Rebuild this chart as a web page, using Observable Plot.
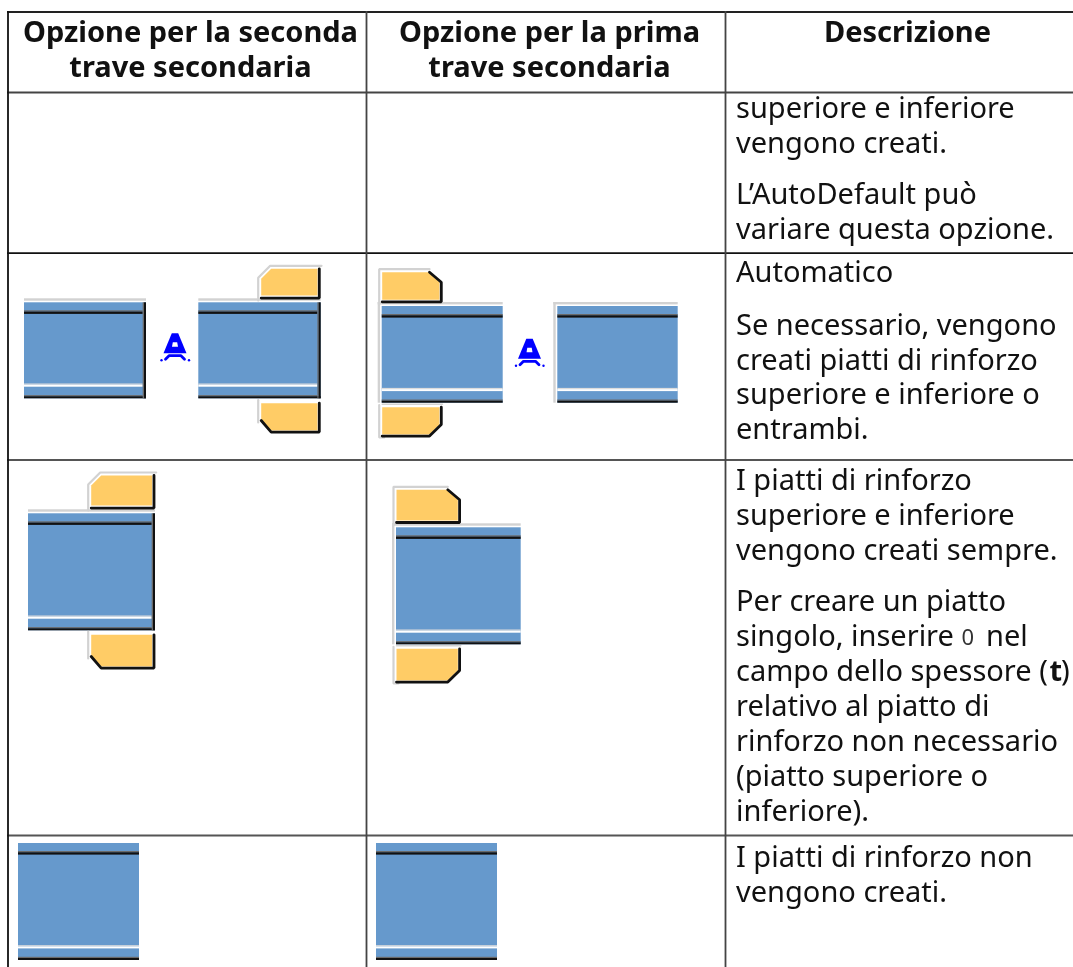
<!DOCTYPE html>
<html><head><meta charset="utf-8">
<style>html,body{margin:0;padding:0;background:#fff;overflow:hidden}svg{display:block;filter:blur(.4px)}</style>
<script src="https://cdn.jsdelivr.net/npm/d3@7"></script>
<script src="https://cdn.jsdelivr.net/npm/@observablehq/plot@0.6"></script>
</head><body><div id="chart"></div>
<script>
const columnTitles = [["Opzione per la seconda","trave secondaria"],["Opzione per la prima","trave secondaria"],["Descrizione"]];
const descriptionLines = ["superiore e inferiore","vengono creati.","L’AutoDefault può","variare questa opzione.","Automatico","Se necessario, vengono","creati piatti di rinforzo","superiore e inferiore o","entrambi.","I piatti di rinforzo","superiore e inferiore","vengono creati sempre.","Per creare un piatto","singolo, inserire","campo dello spessore (","relativo al piatto di","rinforzo non necessario","(piatto superiore o","inferiore).","I piatti di rinforzo non","vengono creati."];
const inlinePieces = ["0","nel","t",")"];

const descriptionY = [108,143,194,229,272,325,360,394,429,480,515,550,601,636,671,706,741,776,811,857,892];
const headerX = [190,549,907], headerY = [32,67];
const hLines = [{y:11.5,s:"#222",w:1.8},{y:92,s:"#444",w:1.8},{y:252.7,s:"#111",w:1.8},{y:459.5,s:"#555",w:1.8},{y:835,s:"#555",w:1.8}];
const vLines = [{x:7.5,s:"#111",w:1.8},{x:366,s:"#444",w:1.8},{x:725,s:"#444",w:1.8}];
const BLUE="#6699cc", ORANGE="#ffcc66", LIGHT="#d2d2d2", DARK="#111", MID="#6a6a6a";

const beams = [
 {x:24,y:302.3,w:122,h:96,t:"R"},{x:198.3,y:302.3,w:122.4,h:96,t:"R"},
 {x:381.7,y:306,w:121,h:96.7,t:"L"},{x:557.3,y:306,w:120.4,h:96.7,t:"L"},
 {x:28,y:513.3,w:127,h:117,t:"R"},{x:396,y:527.3,w:124.7,h:117,t:"L"},
 {x:18,y:843,w:121,h:117,t:"N"},{x:376,y:843,w:121,h:117,t:"N"}
];
const plates = [
 {x0:260.7,x1:317,y0:268.3,y1:295,c:"tl"},{x0:260.7,x1:317,y0:402.7,y1:430,c:"bl"},
 {x0:381.7,x1:439,y0:271.7,y1:299.3,c:"tr"},{x0:381.7,x1:439,y0:406.7,y1:434,c:"br"},
 {x0:90.7,x1:151.7,y0:475,y1:505,c:"tl"},{x0:90.7,x1:151.7,y0:634.3,y1:666,c:"bl"},
 {x0:396,x1:457.3,y0:489.3,y1:520,c:"tr"},{x0:396,x1:457.3,y0:648.3,y1:680,c:"br"}
];
const autoSymbols = [{x:174.5,y:332.7},{x:529,y:338.3}];

const rects=[], fills=[], strokes=[];
const R=(x1,y1,x2,y2,fill)=>rects.push({x1,y1,x2,y2,fill});
for(const b of beams){
  const {x,y,w,h,t}=b, x2=x+w, y2=y+h;
  R(x,y,x2,y2,BLUE);
  if(t!=="N") R(t==="L"?x-4:x,y-4,x2,y-1.6,LIGHT);
  if(t==="L") R(x-4,y-4,x-1.6,y2,LIGHT);
  const xr=t==="R"?x2-3.3:x2;
  R(x,y+8,xr,y+9.3,MID); R(x,y+9.3,xr,y+11.6,DARK);
  R(x,y2-14.8,xr,y2-13.6,"#dcdcdc"); R(x,y2-13.6,xr,y2-11.6,"#fff");
  R(x,y2-3.2,xr,y2-2,MID); R(x,y2-2,x2,y2,DARK);
  if(t==="R"){R(x2-3.3,y,x2-2,y2,MID);R(x2-2,y,x2,y2,DARK);}
}
for(const p of plates){
  const {x0,x1,y0,y1,c}=p, k=Math.min(10,(y1-y0)*.38);
  const pts = c==="tl"?[[x0+k,y0],[x1,y0],[x1,y1],[x0,y1],[x0,y0+k]]
    : c==="bl"?[[x0,y0],[x1,y0],[x1,y1],[x0+k,y1],[x0,y1-k]]
    : c==="tr"?[[x0,y0],[x1-k,y0],[x1,y0+k],[x1,y1],[x0,y1]]
    : [[x0,y0],[x1,y0],[x1,y1-k],[x1-k,y1],[x0,y1]];
  fills.push({pts:pts.concat([pts[0]]),fill:ORANGE});
  const S=(pts,stroke,sw)=>strokes.push({pts,stroke,sw});
  if(c==="tl"){
    S([[x0-3,y1+5],[x0-3,y0+k-1],[x0+k-1,y0-3],[x1+4,y0-3]],LIGHT,2.2);
    S([[x1+1.8,y0],[x1+1.8,y1+2.6],[x0,y1+2.6]],DARK,2.8);
  } else if(c==="bl"){
    S([[x0-3,y0-3],[x0-3,y1-k+2]],LIGHT,2.2);
    S([[x0,y1-k],[x0+k,y1+1.6],[x1+1.8,y1+1.6],[x1+1.8,y0]],DARK,2.8);
  } else if(c==="tr"){
    S([[x0-3,y1+5],[x0-3,y0-3],[x1-k,y0-3]],LIGHT,2.2);
    S([[x1-k,y0],[x1+1.8,y0+k],[x1+1.8,y1+2],[x0,y1+2]],DARK,2.8);
  } else {
    S([[x0-3,y0-2],[x0-3,y1+3],[x0+2,y1+3]],LIGHT,2.2);
    S([[x1+1.8,y0],[x1+1.8,y1-k],[x1-k,y1+1.6],[x0,y1+1.6]],DARK,2.8);
    S([[x0,y0-3],[x1+3,y0-3]],LIGHT,1.4);
  }
}
const symBody=[[-3.2,0],[3.2,0],[11.5,20],[-11.5,20],[-3.2,0]];
const symHole=[[-2.2,9],[2.2,9],[3,13.5],[-3,13.5],[-2.2,9]];
const symArch=[[-9.5,26],[-6,22.5],[6,22.5],[9.5,26]];
const dots=[];
for(const s of autoSymbols){
  fills.push({pts:symBody.map(([a,b])=>[s.x+a,s.y+b]),fill:"#0000ff"});
  strokes.push({pts:symArch.map(([a,b])=>[s.x+a,s.y+b]),stroke:"#0000ff",sw:2.8});
  dots.push({x:s.x-13.5,y:s.y+27},{x:s.x+14,y:s.y+27});
}
const holes=autoSymbols.map(s=>symHole.map(([a,b])=>[s.x+a,s.y+b]));

const font='"Noto Sans","Open Sans",sans-serif', FS=29;
const marks=[
 ...fills.map(p=>Plot.line(p.pts,{x:d=>d[0],y:d=>d[1],fill:p.fill,stroke:"none"})),
 ...holes.map(p=>Plot.line(p,{x:d=>d[0],y:d=>d[1],fill:"#fff",stroke:"none"})),
 Plot.rect(rects,{x1:"x1",x2:"x2",y1:"y1",y2:"y2",fill:"fill"}),
 ...strokes.map(p=>Plot.line(p.pts,{x:d=>d[0],y:d=>d[1],fill:"none",stroke:p.stroke,strokeWidth:p.sw,strokeLinejoin:"miter"})),
 Plot.dot(dots,{x:"x",y:"y",r:1.2,fill:"#0000ff"}),
 Plot.ruleY(hLines,{y:"y",x1:7,x2:1073,stroke:"s",strokeWidth:"w"}),
 Plot.ruleX(vLines,{x:"x",y1:11,y2:967,stroke:"s",strokeWidth:"w"}),
 Plot.text(descriptionLines,{x:735.5,y:(d,i)=>descriptionY[i],text:d=>d,textAnchor:"start",lineAnchor:"middle",fontSize:FS,fontFamily:font,fill:"#111"}),
 Plot.text(inlinePieces.slice(0,1),{x:961,y:637,text:d=>d,textAnchor:"start",lineAnchor:"middle",fontSize:22,fontFamily:font,fill:"#333"}),
 Plot.text(inlinePieces.slice(1,2),{x:985.5,y:636,text:d=>d,textAnchor:"start",lineAnchor:"middle",fontSize:FS,fontFamily:font,fill:"#111"}),
 Plot.text(inlinePieces.slice(2,3),{x:1049,y:671,text:d=>d,textAnchor:"start",lineAnchor:"middle",fontSize:FS,fontWeight:"bold",fontFamily:font,fill:"#111"}),
 Plot.text(inlinePieces.slice(3,4),{x:1060.5,y:671,text:d=>d,textAnchor:"start",lineAnchor:"middle",fontSize:FS,fontFamily:font,fill:"#111"})
];
columnTitles.forEach((lines,c)=>marks.push(Plot.text(lines,{x:headerX[c],y:(d,i)=>headerY[i],text:d=>d,textAnchor:"middle",lineAnchor:"middle",fontSize:FS,fontWeight:"bold",fontFamily:font,fill:"#111"})));

const chart=Plot.plot({width:1073,height:967,margin:0,
 style:{background:"#fff",overflow:"hidden"},
 x:{domain:[0,1073],range:[0,1073],axis:null},
 y:{domain:[0,967],range:[0,967],axis:null},
 color:{type:"identity"},
 marks});
document.getElementById("chart").append(chart);
</script></body></html>
